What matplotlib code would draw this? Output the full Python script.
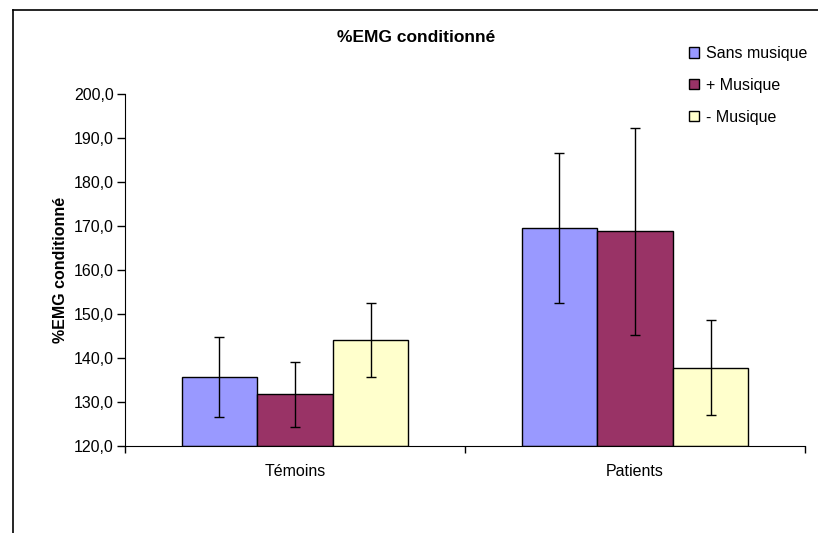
import numpy as np
import matplotlib.pyplot as plt
from matplotlib.lines import Line2D
from matplotlib.patches import Patch

plt.rcParams['font.family'] = ['Liberation Sans', 'DejaVu Sans']

groups = ['Témoins', 'Patients']
series = ['Sans musique', '+ Musique', '- Musique']
colors = ['#9999FF', '#993366', '#FFFFCC']
means = [
    [135.7, 169.5],
    [131.8, 168.8],
    [144.1, 137.8],
]
errors = [
    [9.0, 17.0],
    [7.4, 23.5],
    [8.5, 10.8],
]
yticks = [120, 130, 140, 150, 160, 170, 180, 190, 200]

fig = plt.figure(figsize=(8.18, 5.33), dpi=100)
ax = fig.add_axes([125 / 818, 1 - 446 / 533, 680 / 818, 352 / 533])

x = np.arange(len(groups))
w = 1 / 4.5
for i, (name, col) in enumerate(zip(series, colors)):
    ax.bar(x + (i - 1) * w, np.array(means[i]) - 120, w, bottom=120, color=col,
           edgecolor='black', linewidth=1, label=name)
    ax.errorbar(x + (i - 1) * w, means[i], yerr=errors[i], fmt='none',
                ecolor='black', elinewidth=1, capsize=3.5, capthick=1)

ax.set_xlim(-0.5, 1.5)
ax.set_ylim(120, 200)
ax.set_yticks(yticks)
ax.set_yticklabels(['{:.1f}'.format(v).replace('.', ',') for v in yticks], fontsize=11.5)
ax.set_xticks(x)
ax.set_xticklabels(groups, fontsize=11.5)
ax.tick_params(axis='x', which='major', length=0, pad=13)
ax.set_xticks([-0.5, 0.5, 1.5], minor=True)
ax.tick_params(axis='x', which='minor', length=5, width=1, direction='out')
ax.tick_params(axis='y', length=6, width=1, direction='out', pad=2)
ax.spines['top'].set_visible(False)
ax.spines['right'].set_visible(False)
ax.set_ylabel('%EMG conditionné', fontsize=11.5, fontweight='bold', labelpad=4)

fig.text(416 / 818, 1 - 37 / 533, '%EMG conditionné', ha='center', va='center',
         fontsize=12.5, fontweight='bold')

handles = [Patch(facecolor=c, edgecolor='black', linewidth=1) for c in colors]
fig.legend(handles, series, loc='upper left', bbox_to_anchor=(689 / 818, 1 - 46 / 533),
           frameon=False, fontsize=11.5, handlelength=0.62, handleheight=0.62,
           handletextpad=0.45, labelspacing=1.05, borderpad=0, borderaxespad=0)

# chart frame (left and top edges visible)
fig.add_artist(Line2D([13 / 818, 13 / 818], [0, 1 - 10 / 533], color='black', lw=1.2,
                      transform=fig.transFigure))
fig.add_artist(Line2D([13 / 818, 1], [1 - 10 / 533, 1 - 10 / 533], color='black', lw=1.2,
                      transform=fig.transFigure))

fig.savefig('out.png', dpi=100)
